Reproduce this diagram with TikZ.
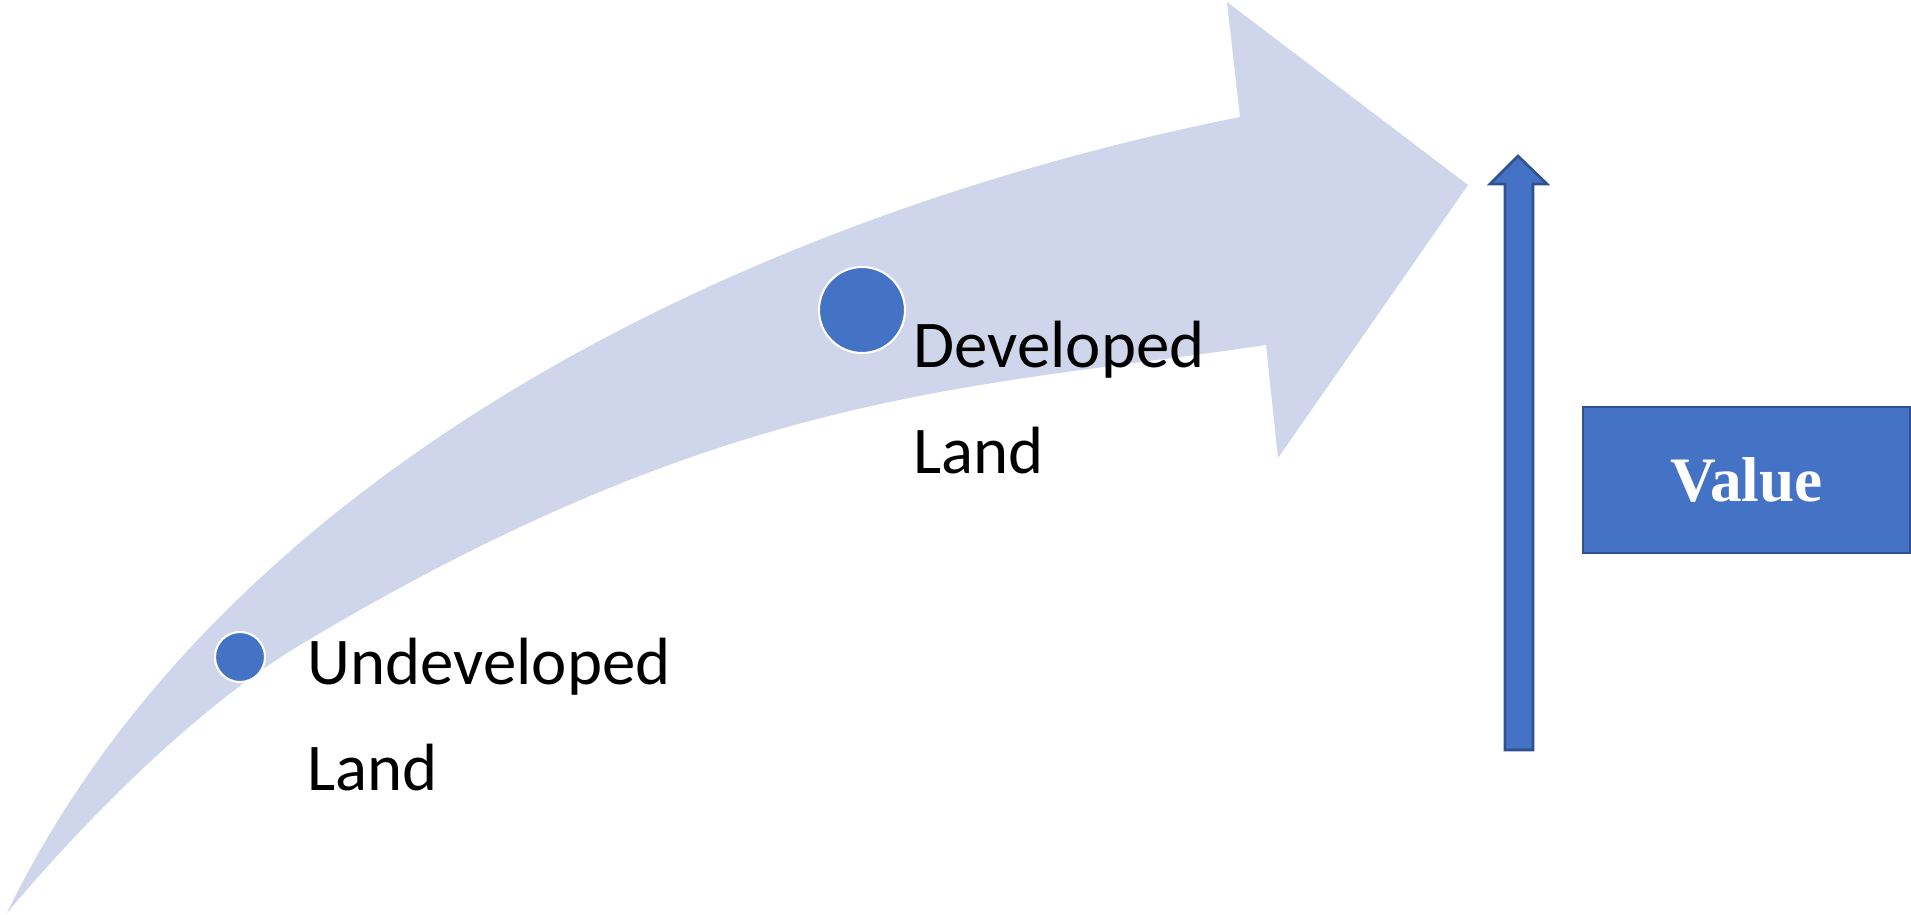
\documentclass[tikz,border=0pt]{standalone}
\usepackage{fontspec}
\setmainfont{Carlito}
\newfontfamily\valuefont{Liberation Serif}
\usetikzlibrary{positioning}
\definecolor{landblue}{RGB}{68,114,196}
\definecolor{edgeblue}{RGB}{47,82,143}
\definecolor{trendfill}{RGB}{207,213,234}

\begin{document}
\begin{tikzpicture}[x=0.01cm, y=-0.01cm,
    dot/.style={circle, fill=landblue, draw=white, line width=0.6pt,
                inner sep=0pt, minimum size=#1},
    landtext/.style={anchor=base west, align=left, inner sep=0pt,
                font=\fontsize{19}{30}\selectfont},
    valuebox/.style={rectangle, draw=edgeblue, line width=0.6pt, fill=landblue,
                minimum width=3.27cm, minimum height=1.46cm, text=white,
                font=\valuefont\bfseries\fontsize{18}{22}\selectfont}
]
    \useasboundingbox (0,0) rectangle (1911,915);

    % Curved trend arrow
    \fill[trendfill] (7,913) .. controls (216,481) and (730,219) .. (1240,117)
        -- (1227,2) -- (1468,185) -- (1278,458) -- (1266,345)
        .. controls (969,389) and (729,388) .. (300,645)
        .. controls (197,707) and (84,821) .. (7,913) -- cycle;

    % Land points
    \node[dot=0.5cm] (undev) at (240,657) {};
    \node[dot=0.86cm] (dev) at (862,310) {};

    % Labels
    \node[landtext] (undevtext) at (307,790) {Undeveloped\\Land};
    \node[landtext] (devtext) at (913,473) {Developed\\Land};

    % Value arrow
    \filldraw[fill=landblue, draw=edgeblue, line width=0.75pt]
        (1505,750) -- (1505,184) -- (1490,184) -- (1518,156)
        -- (1547,184) -- (1533,184) -- (1533,750) -- cycle;

    % Value box
    \node[valuebox] (value) at (1746.5,480) {Value};
\end{tikzpicture}
\end{document}
